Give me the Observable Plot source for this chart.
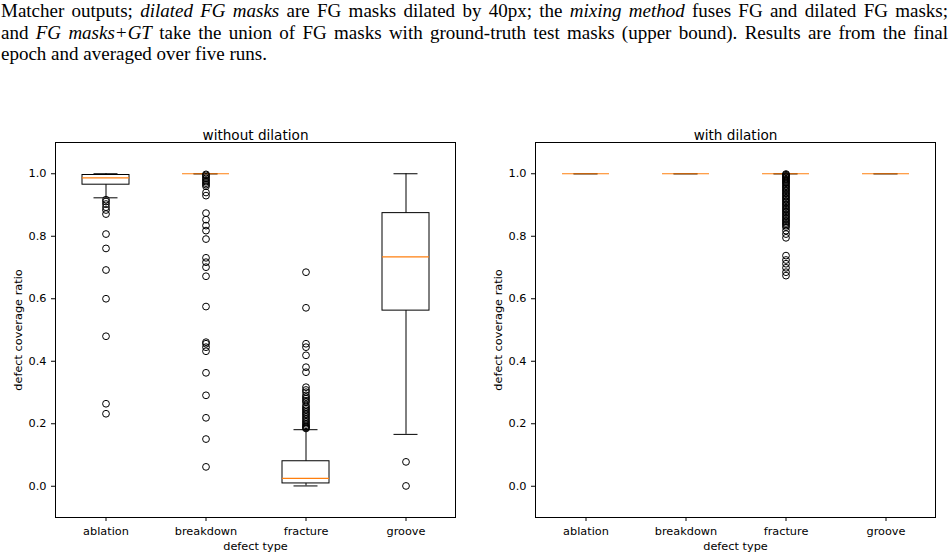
<!DOCTYPE html>
<html>
<head>
<meta charset="utf-8">
<script src="https://cdn.jsdelivr.net/npm/d3@7"></script>
<script src="https://cdn.jsdelivr.net/npm/@observablehq/plot@0.6"></script>
<style>
  html, body { margin: 0; padding: 0; background: #fff; }
  #page { position: relative; width: 949px; height: 558px; overflow: hidden; background: #fff; }
  #caption { position: absolute; left: 1px; top: 0; width: 947px;
    font-family: "Liberation Serif", "Times New Roman", serif; font-size: 19px; line-height: 21.5px; color: #000; }
  #caption .j { text-align: justify; text-align-last: justify; }
  #left, #right { position: absolute; top: 112px; }
  #left { left: 0; }
  #right { left: 480px; }
  svg { display: block; }
</style>
</head>
<body>
<div id="page">
  <div id="caption">
    <div class="j">Matcher outputs; <i>dilated FG masks</i> are FG masks dilated by 40px; the <i>mixing method</i> fuses FG and dilated FG masks;</div>
    <div class="j">and <i>FG masks+GT</i> take the union of FG masks with ground-truth test masks (upper bound). Results are from the final</div>
    <div>epoch and averaged over five runs.</div>
  </div>
  <div id="left"></div>
  <div id="right"></div>
</div>
<script>
const categories = ["ablation", "breakdown", "fracture", "groove"];
const yTicks = [0.0, 0.2, 0.4, 0.6, 0.8, 1.0];

// Without dilation: box statistics per defect type
const plainQ1 = [0.965, 1.0, 0.009, 0.562];
const plainMedian = [0.987, 1.0, 0.025, 0.734];
const plainQ3 = [0.996, 1.0, 0.080, 0.874];
const plainLow = [0.923, 1.0, 0.001, 0.166];
const plainHigh = [1.0, 1.0, 0.181, 1.0];
const plainOutliers = [
  [0.917, 0.911, 0.903, 0.893, 0.884, 0.871, 0.807, 0.761, 0.692, 0.600, 0.480, 0.264, 0.232],
  [0.998, 0.995, 0.990, 0.985, 0.980, 0.975, 0.970, 0.965, 0.960, 0.940, 0.930, 0.874, 0.853,
   0.834, 0.818, 0.791, 0.731, 0.717, 0.701, 0.672, 0.575, 0.461, 0.456, 0.445, 0.432, 0.363,
   0.291, 0.219, 0.151, 0.062],
  [0.685, 0.571, 0.456, 0.445, 0.419, 0.381, 0.365, 0.317, 0.308, 0.301, 0.291, 0.285, 0.280,
   0.274, 0.269, 0.259, 0.253, 0.248, 0.243, 0.237, 0.232, 0.227, 0.221, 0.216, 0.210, 0.205,
   0.200, 0.195, 0.191, 0.188, 0.185],
  [0.078, 0.001]
];

// With dilation: box statistics per defect type
const dilatedQ1 = [1.0, 1.0, 1.0, 1.0];
const dilatedMedian = [1.0, 1.0, 1.0, 1.0];
const dilatedQ3 = [1.0, 1.0, 1.0, 1.0];
const dilatedLow = [1.0, 1.0, 1.0, 1.0];
const dilatedHigh = [1.0, 1.0, 1.0, 1.0];
const dilatedOutliers = [
  [],
  [],
  [0.999, 0.997, 0.994, 0.991, 0.988, 0.984, 0.981, 0.977, 0.973, 0.970, 0.966, 0.961, 0.957,
   0.953, 0.948, 0.944, 0.939, 0.935, 0.930, 0.926, 0.921, 0.917, 0.912, 0.908, 0.903, 0.899,
   0.894, 0.889, 0.885, 0.880, 0.876, 0.871, 0.866, 0.862, 0.857, 0.852, 0.848, 0.843, 0.839,
   0.834, 0.829, 0.818, 0.807, 0.795, 0.738, 0.724, 0.712, 0.699, 0.685, 0.674],
  []
];

const medianColor = "#ff7f0e";
const capInset = 11.5;

function boxPanel(title, q1, med, q3, lo, hi, outliers, width, marginRight) {
  const boxes = categories.map((c, i) => ({c, q1: q1[i], med: med[i], q3: q3[i], lo: lo[i], hi: hi[i]}));
  const points = categories.flatMap((c, i) => outliers[i].map(v => ({c, v})));
  return Plot.plot({
    width,
    height: 446,
    marginTop: 30,
    marginBottom: 41,
    marginLeft: 55,
    marginRight,
    style: {fontFamily: "DejaVu Sans", fontSize: "11.3px", color: "#000", background: "#fff", overflow: "visible"},
    x: {domain: categories, paddingInner: 0.53, paddingOuter: 0.265, tickSize: 4, tickPadding: 5, label: null},
    y: {domain: [-0.1, 1.1], ticks: yTicks, tickFormat: d => d.toFixed(1), tickSize: 4, tickPadding: 5, label: null},
    marks: [
      Plot.ruleX(boxes, {x: "c", y1: "q3", y2: "hi", stroke: "#000", strokeWidth: 1}),
      Plot.ruleX(boxes, {x: "c", y1: "lo", y2: "q1", stroke: "#000", strokeWidth: 1}),
      Plot.tickY(boxes, {x: "c", y: "hi", stroke: "#000", insetLeft: capInset, insetRight: capInset}),
      Plot.tickY(boxes, {x: "c", y: "lo", stroke: "#000", insetLeft: capInset, insetRight: capInset}),
      Plot.barY(boxes, {x: "c", y1: "q1", y2: "q3", fill: "none", stroke: "#000", strokeWidth: 1}),
      Plot.tickY(boxes, {x: "c", y: "med", stroke: medianColor, strokeWidth: 1.2}),
      Plot.dot(points, {x: "c", y: "v", r: 3.4, stroke: "#000", fill: "none", strokeWidth: 1}),
      Plot.frame({stroke: "#000", strokeWidth: 1}),
      Plot.text([title], {text: d => d, frameAnchor: "top", dy: -12, fontSize: 13.6}),
      Plot.text(["defect type"], {text: d => d, frameAnchor: "bottom", dy: 32}),
      Plot.text(["defect coverage ratio"], {text: d => d, frameAnchor: "left", textAnchor: "middle", dx: -37, rotate: -90})
    ]
  });
}

document.getElementById("left").append(
  boxPanel("without dilation", plainQ1, plainMedian, plainQ3, plainLow, plainHigh, plainOutliers, 475, 20)
);
document.getElementById("right").append(
  boxPanel("with dilation", dilatedQ1, dilatedMedian, dilatedQ3, dilatedLow, dilatedHigh, dilatedOutliers, 469, 14)
);
</script>
</body>
</html>
